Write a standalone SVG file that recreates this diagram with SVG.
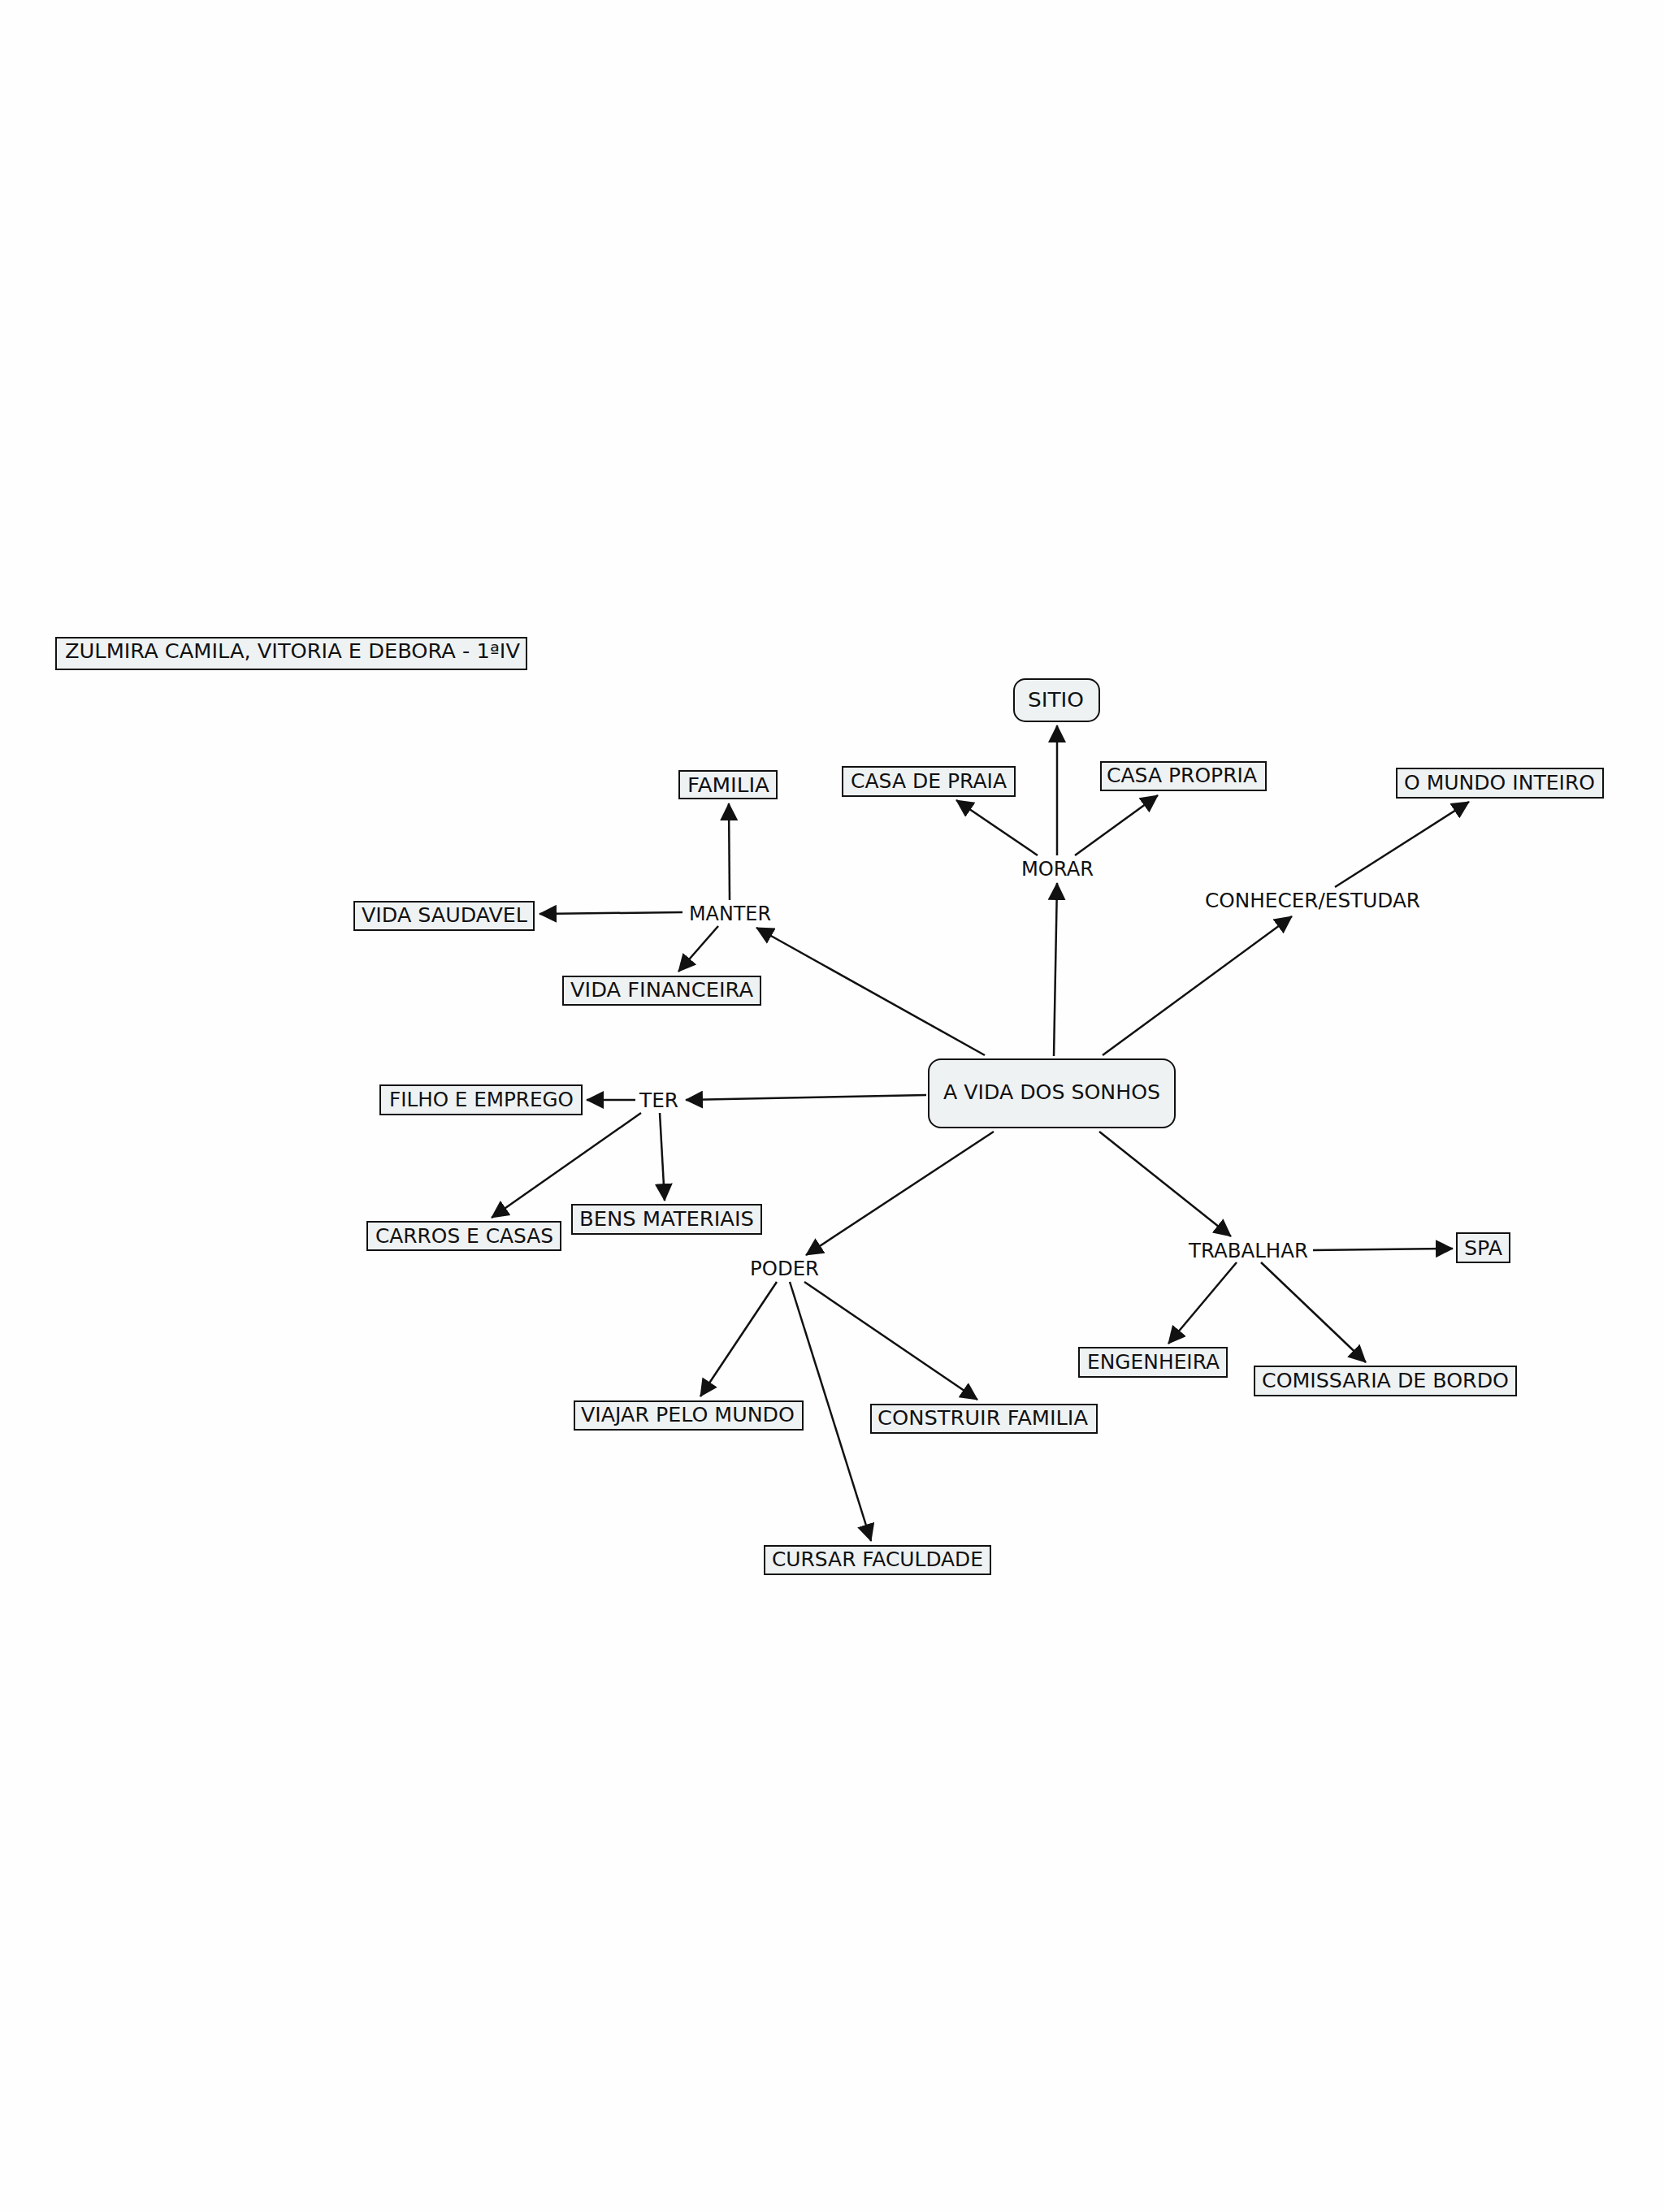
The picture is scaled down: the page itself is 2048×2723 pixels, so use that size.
<svg xmlns="http://www.w3.org/2000/svg" width="2048" height="2723" viewBox="0 0 2048 2723">
<style>
.bg{fill:#fefefe}
.box{fill:#eff2f3;stroke:#111;stroke-width:2}
.t{font-family:"DejaVu Sans","Verdana",sans-serif;font-size:24px;fill:#111}
.c line{stroke:#111;stroke-width:2.5;fill:none;marker-end:url(#ah)}
</style>
<defs>
<marker id="ah" viewBox="0 0 22 22" refX="21" refY="11" markerWidth="22" markerHeight="22" markerUnits="userSpaceOnUse" orient="auto">
<path d="M0,0 L22,11 L0,22 z" fill="#111"/>
</marker>
</defs>
<rect class="bg" x="0" y="0" width="2048" height="2723"/>
<g class="c" id="connectors">
<line x1="1212" y1="1299" x2="931" y2="1142"/>
<line x1="1297" y1="1300" x2="1301" y2="1087"/>
<line x1="1357" y1="1299" x2="1590" y2="1128"/>
<line x1="1140" y1="1348" x2="844" y2="1354"/>
<line x1="1223" y1="1393" x2="992" y2="1545"/>
<line x1="1353" y1="1393" x2="1515" y2="1522"/>
<line x1="1301" y1="1053" x2="1301" y2="893"/>
<line x1="1277" y1="1053" x2="1177" y2="985"/>
<line x1="1323" y1="1053" x2="1425" y2="979"/>
<line x1="1643" y1="1092" x2="1808" y2="987"/>
<line x1="898" y1="1108" x2="897" y2="989"/>
<line x1="840" y1="1123" x2="664" y2="1125"/>
<line x1="884" y1="1140" x2="835" y2="1196"/>
<line x1="782" y1="1354" x2="722" y2="1354"/>
<line x1="789" y1="1370" x2="605" y2="1499"/>
<line x1="812" y1="1370" x2="818" y2="1478"/>
<line x1="956" y1="1578" x2="862" y2="1719"/>
<line x1="972" y1="1578" x2="1072" y2="1897"/>
<line x1="990" y1="1578" x2="1203" y2="1723"/>
<line x1="1616" y1="1539" x2="1788" y2="1537"/>
<line x1="1522" y1="1554" x2="1438" y2="1654"/>
<line x1="1552" y1="1554" x2="1681" y2="1677"/>
</g>
<g id="title"><rect class="box" x="69" y="785" width="579" height="39"/><text class="t" x="80" y="810" textLength="560" lengthAdjust="spacingAndGlyphs">ZULMIRA CAMILA, VITORIA E DEBORA - 1ªIV</text></g>
<g id="sitio"><rect class="box" x="1248" y="836" width="105" height="52" rx="14"/><text class="t" x="1265" y="870" textLength="69" lengthAdjust="spacingAndGlyphs">SITIO</text></g>
<g id="casa-praia"><rect class="box" x="1037" y="944" width="212" height="36"/><text class="t" x="1047" y="970" textLength="192" lengthAdjust="spacingAndGlyphs">CASA DE PRAIA</text></g>
<g id="casa-propria"><rect class="box" x="1355" y="938" width="203" height="35"/><text class="t" x="1362" y="963" textLength="185" lengthAdjust="spacingAndGlyphs">CASA PROPRIA</text></g>
<g id="mundo"><rect class="box" x="1719" y="946" width="254" height="36"/><text class="t" x="1728" y="972" textLength="235" lengthAdjust="spacingAndGlyphs">O MUNDO INTEIRO</text></g>
<g id="familia"><rect class="box" x="836" y="949" width="120" height="34"/><text class="t" x="846" y="975" textLength="101" lengthAdjust="spacingAndGlyphs">FAMILIA</text></g>
<g id="morar"><text class="t" x="1257" y="1078" textLength="89" lengthAdjust="spacingAndGlyphs">MORAR</text></g>
<g id="conhecer"><text class="t" x="1483" y="1117" textLength="265" lengthAdjust="spacingAndGlyphs">CONHECER/ESTUDAR</text></g>
<g id="manter"><text class="t" x="848" y="1133" textLength="101" lengthAdjust="spacingAndGlyphs">MANTER</text></g>
<g id="vida-saudavel"><rect class="box" x="436" y="1110" width="221" height="35"/><text class="t" x="445" y="1135" textLength="204" lengthAdjust="spacingAndGlyphs">VIDA SAUDAVEL</text></g>
<g id="vida-financeira"><rect class="box" x="693" y="1202" width="243" height="35"/><text class="t" x="702" y="1227" textLength="225" lengthAdjust="spacingAndGlyphs">VIDA FINANCEIRA</text></g>
<g id="vida-sonhos"><rect class="box" x="1143" y="1304" width="303" height="84" rx="15"/><text class="t" x="1161" y="1353" textLength="267" lengthAdjust="spacingAndGlyphs">A VIDA DOS SONHOS</text></g>
<g id="filho"><rect class="box" x="468" y="1336" width="248" height="36"/><text class="t" x="479" y="1362" textLength="227" lengthAdjust="spacingAndGlyphs">FILHO E EMPREGO</text></g>
<g id="ter"><text class="t" x="787" y="1363" textLength="48" lengthAdjust="spacingAndGlyphs">TER</text></g>
<g id="bens"><rect class="box" x="704" y="1483" width="233" height="36"/><text class="t" x="713" y="1509" textLength="215" lengthAdjust="spacingAndGlyphs">BENS MATERIAIS</text></g>
<g id="carros"><rect class="box" x="452" y="1504" width="238" height="35"/><text class="t" x="462" y="1530" textLength="219" lengthAdjust="spacingAndGlyphs">CARROS E CASAS</text></g>
<g id="poder"><text class="t" x="923" y="1570" textLength="85" lengthAdjust="spacingAndGlyphs">PODER</text></g>
<g id="trabalhar"><text class="t" x="1463" y="1548" textLength="147" lengthAdjust="spacingAndGlyphs">TRABALHAR</text></g>
<g id="spa"><rect class="box" x="1793" y="1518" width="65" height="36"/><text class="t" x="1802" y="1545" textLength="47" lengthAdjust="spacingAndGlyphs">SPA</text></g>
<g id="engenheira"><rect class="box" x="1328" y="1659" width="182" height="36"/><text class="t" x="1338" y="1685" textLength="163" lengthAdjust="spacingAndGlyphs">ENGENHEIRA</text></g>
<g id="comissaria"><rect class="box" x="1544" y="1682" width="322" height="36"/><text class="t" x="1553" y="1708" textLength="304" lengthAdjust="spacingAndGlyphs">COMISSARIA DE BORDO</text></g>
<g id="viajar"><rect class="box" x="707" y="1725" width="281" height="35"/><text class="t" x="715" y="1750" textLength="263" lengthAdjust="spacingAndGlyphs">VIAJAR PELO MUNDO</text></g>
<g id="construir"><rect class="box" x="1072" y="1729" width="278" height="35"/><text class="t" x="1080" y="1754" textLength="259" lengthAdjust="spacingAndGlyphs">CONSTRUIR FAMILIA</text></g>
<g id="cursar"><rect class="box" x="941" y="1903" width="278" height="35"/><text class="t" x="950" y="1928" textLength="260" lengthAdjust="spacingAndGlyphs">CURSAR FACULDADE</text></g>
</svg>
